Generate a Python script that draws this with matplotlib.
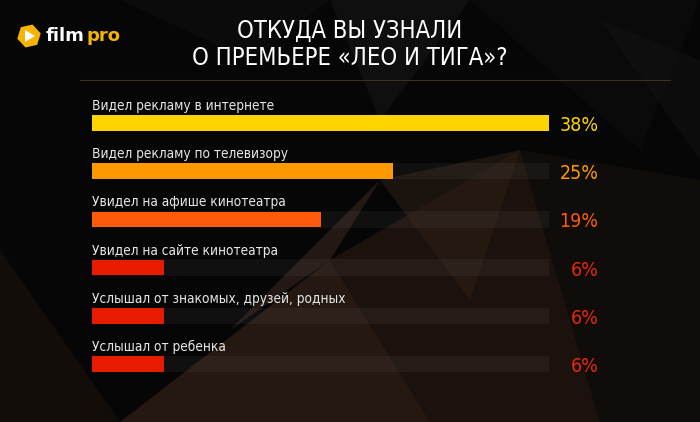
import matplotlib.pyplot as plt
from matplotlib.patches import Polygon, RegularPolygon
import numpy as np

# data
categories = [
    'Видел рекламу в интернете',
    'Видел рекламу по телевизору',
    'Увидел на афише кинотеатра',
    'Увидел на сайте кинотеатра',
    'Услышал от знакомых, друзей, родных',
    'Услышал от ребенка',
]
values = [38, 25, 19, 6, 6, 6]
bar_colors = ['#fdd400', '#fe9a00', '#fe5a0a', '#ea1c00', '#ea1c00', '#ea1c00']
label_colors = ['#fdd400', '#fe9a00', '#fe5a0a', '#e8280e', '#e8280e', '#e8280e']

plt.rcParams['font.family'] = ['DejaVu Sans']
plt.rcParams['font.stretch'] = 'condensed'

fig = plt.figure(figsize=(7, 4.22), dpi=100)
fig.patch.set_facecolor('#060606')

# background: dark polygons
bg = fig.add_axes([0, 0, 1, 1])
bg.set_xlim(0, 700)
bg.set_ylim(422, 0)
bg.axis('off')
shapes = [
    ([(330, 0), (470, 0), (380, 120)], '#121212', 0.8),
    ([(470, 0), (700, 0), (640, 150)], '#0c0c0c', 0.8),
    ([(120, 0), (330, 0), (250, 60)], '#0d0d0d', 0.8),
    ([(120, 422), (330, 260), (430, 422)], '#2e1d14', 0.8),
    ([(330, 260), (520, 150), (600, 422), (430, 422)], '#22160f', 0.8),
    ([(230, 330), (380, 180), (330, 260)], '#32201a', 0.7),
    ([(520, 150), (700, 180), (700, 422), (600, 422)], '#120e0b', 0.8),
    ([(0, 250), (120, 422), (0, 422)], '#17100c', 0.8),
    ([(380, 180), (520, 150), (470, 300)], '#2a1d15', 0.6),
    ([(600, 20), (700, 60), (700, 160)], '#111111', 0.6),
]
for pts, c, a in shapes:
    bg.add_patch(Polygon(pts, closed=True, facecolor=c, edgecolor='none', alpha=a))

# separator line
bg.plot([80, 670], [80, 80], color='#3e301c', lw=0.8)

# logo
bg.add_patch(RegularPolygon((29, 36), numVertices=6, radius=12, orientation=0.3,
                            facecolor='#f5b400', edgecolor='none'))
bg.add_patch(Polygon([(25, 30), (25, 42), (35, 36)], closed=True,
                     facecolor='white', edgecolor='none'))
t_film = fig.text(46 / 700, 1 - 36 / 422, 'film', color='white', fontsize=13,
                  fontweight='bold', va='center', fontstretch='normal')
fig.canvas.draw()
ext = t_film.get_window_extent()
fig.text(ext.x1 / 700 + 0.002, 1 - 36 / 422, 'pro', color='#f5b400', fontsize=13,
         fontweight='bold', va='center', fontstretch='normal')

# title
fig.text(0.5, 1 - 31 / 422, 'ОТКУДА ВЫ УЗНАЛИ', color='white', fontsize=17,
         ha='center', va='center')
fig.text(0.5, 1 - 58 / 422, 'О ПРЕМЬЕРЕ «ЛЕО И ТИГА»?', color='white', fontsize=17,
         ha='center', va='center')

# bars
px_per_pct = 457 / 38
ax = fig.add_axes([92 / 700, 33.9 / 422, 601.5 / 700, 289.2 / 422])
ax.set_xlim(0, 601.5 / px_per_pct)
ax.set_ylim(5.5, -0.5)
ax.axis('off')
ax.patch.set_alpha(0)

y = np.arange(len(values))
ax.barh(y, [max(values)] * len(values), height=0.34, color='white', alpha=0.045)
ax.barh(y, values, height=0.32, color=bar_colors)

for i, (cat, v) in enumerate(zip(categories, values)):
    ax.text(0, i - 0.27, cat, color='#e6e6e6', fontsize=9.8, va='baseline', ha='left')
    ax.text(42.1, i + 0.05, f'{v}%', color=label_colors[i], fontsize=14,
            va='center', ha='right')

fig.savefig('out.png', dpi=100, facecolor=fig.get_facecolor())
